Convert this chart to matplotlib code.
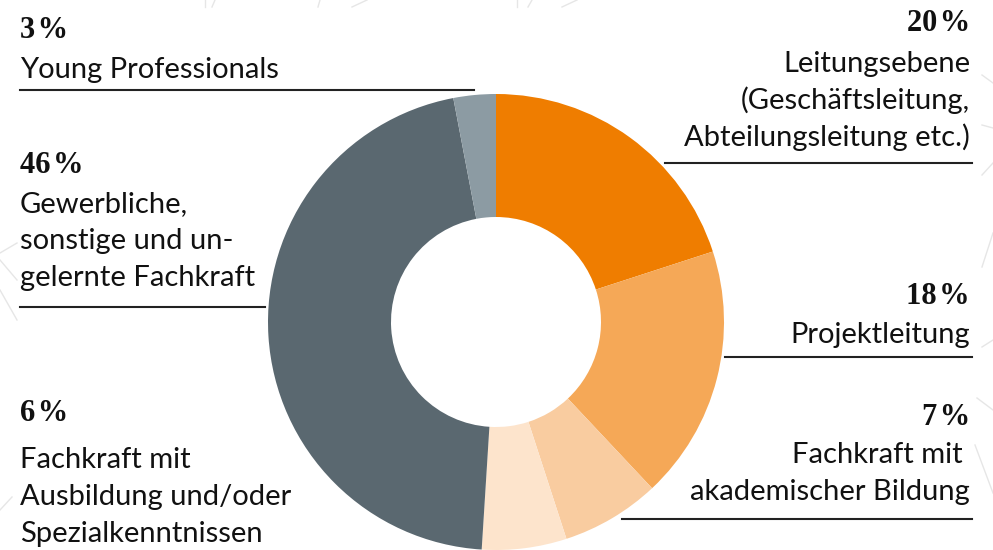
import matplotlib.pyplot as plt

# Daten
shares = [20, 18, 7, 6, 46, 3]
pct_labels = ['20\u200a%', '18\u200a%', '7\u200a%', '6\u200a%', '46\u200a%', '3\u200a%']
colors = ['#EF7D00', '#F5A857', '#F9CCA0', '#FDE4CC', '#5A6870', '#8C9BA3']
names = [
    ['Leitungsebene', '(Geschäftsleitung,', 'Abteilungsleitung etc.)'],
    ['Projektleitung'],
    ['Fachkraft mit ', 'akademischer Bildung'],
    ['Fachkraft mit', 'Ausbildung und/oder', 'Spezialkenntnissen'],
    ['Gewerbliche,', 'sonstige und un-', 'gelernte Fachkraft'],
    ['Young Professionals'],
]

W, H = 993, 550
SANS = ['Lato', 'DejaVu Sans']
SERIF = ['Liberation Serif', 'DejaVu Serif']


def py(y):
    # Pixel von oben -> Datenkoordinate
    return H - y


fig = plt.figure(figsize=(W / 100, H / 100), dpi=100)
ax = fig.add_axes([0, 0, 1, 1])
ax.set_xlim(0, W)
ax.set_ylim(0, H)
ax.set_aspect('equal')
ax.axis('off')

# dezente Hintergrundlinien
deco = [((982, 75), (993, 83)), ((982, 125), (993, 128)), ((982, 175), (993, 163)),
        ((982, 267), (993, 233)), ((982, 347), (993, 340)), ((977, 398), (993, 410)),
        ((975, 445), (993, 493)), ((0, 253), (17, 243)), ((0, 260), (17, 280)),
        ((0, 290), (17, 320)), ((0, 510), (12, 497)), ((205, 0), (205, 7)),
        ((212, 7), (215, 0)), ((318, 7), (320, 0)), ((352, 7), (367, 0)),
        ((517, 0), (517, 7)), ((528, 7), (532, 0)), ((562, 7), (577, 0))]
for (x0, y0), (x1, y1) in deco:
    ax.plot([x0, x1], [py(y0), py(y1)], color='#e6e6e6', lw=1, zorder=0)

# Donut
ax.pie(shares, colors=colors, startangle=90, counterclock=False,
       center=(496, py(322)), radius=228, frame=True,
       wedgeprops=dict(width=123, linewidth=0))
ax.set_xlim(0, W)
ax.set_ylim(0, H)
ax.axis('off')

# Beschriftungen: (x, ha, Baseline Prozent, Baseline erste Zeile, Linie)
label_pos = [
    (970, 'right', 31, 72, (665, 972, 163)),
    (970, 'right', 304, 343, (725, 972, 357)),
    (970, 'right', 425, 463, (622, 972, 519)),
    (20, 'left', 421, 468, None),
    (20, 'left', 173, 212, (20, 265, 307)),
    (20, 'left', 38, 78, (20, 474, 90)),
]
line_step = 37

for pct, lines, (x, ha, yb, yl, rule) in zip(pct_labels, names, label_pos):
    ax.text(x, py(yb), pct, ha=ha, va='baseline', fontsize=22,
            fontweight='bold', family=SERIF, color='#111111')
    for k, t in enumerate(lines):
        ax.text(x, py(yl + k * line_step), t, ha=ha, va='baseline',
                fontsize=21, family=SANS, color='#111111')
    if rule is not None:
        ax.plot([rule[0], rule[1]], [py(rule[2])] * 2, color='#222222', lw=1.5)

plt.savefig('out.png', dpi=100, facecolor='white')
